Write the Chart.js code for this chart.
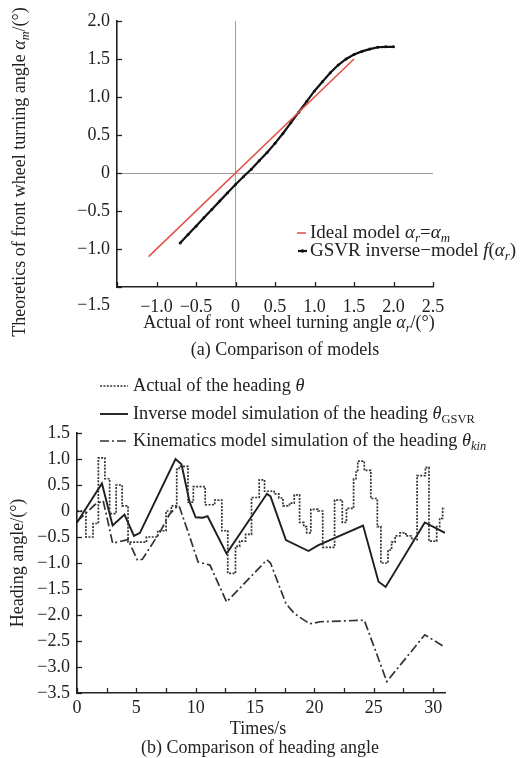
<!DOCTYPE html>
<html><head><meta charset="utf-8">
<script src="https://cdn.jsdelivr.net/npm/chart.js@4.4.1/dist/chart.umd.min.js"></script>
<style>
html,body{margin:0;padding:0;background:#fff;width:520px;height:758px;overflow:hidden}
#wa{position:absolute;left:0;top:0;width:520px;height:362px}
#wb{position:absolute;left:0;top:362px;width:520px;height:396px}
</style></head><body>
<div id="wa"><canvas id="ca"></canvas></div>
<div id="wb"><canvas id="cb"></canvas></div>
<script>
// ---------- (a) Comparison of models ----------
const idealX = [-1.1, 1.5];
const idealY = [-1.1, 1.5];
const gsvrModelX = [-0.7,-0.6,-0.5,-0.4,-0.3,-0.2,-0.1,0,0.1,0.2,0.3,0.4,0.5,0.6,0.7,0.8,0.9,1.0,1.1,1.2,1.3,1.4,1.5,1.6,1.7,1.8,1.9,2.0];
const gsvrModelY = [-0.92,-0.81,-0.70,-0.59,-0.48,-0.37,-0.26,-0.15,-0.05,0.05,0.16,0.27,0.39,0.52,0.66,0.80,0.94,1.08,1.20,1.32,1.42,1.50,1.56,1.60,1.63,1.655,1.66,1.66];
const topXTickLabels = ['−1.0','−0.5','0','0.5','1.0','1.5','2.0','2.5'];
const topYTickLabels = ['−1.0','−0.5','0','0.5','1.0','1.5','2.0'];

// ---------- (b) Comparison of heading angle ----------
const timeActual = [0,0.75,1.35,1.8,2.35,2.75,3.3,3.8,4.3,5.85,6.8,7.5,7.95,8.4,8.6,9.35,9.8,10.8,11.6,12.2,12.7,13.35,13.7,14.2,14.7,15.35,15.8,16.6,17.0,17.35,17.9,18.3,18.75,19.1,19.35,19.7,20.3,20.7,21.7,22.35,22.7,23.3,23.5,23.65,24.2,24.75,25.3,25.6,26.2,26.5,26.8,27.2,27.7,28.2,28.65,29.35,29.65,30.3,30.55,30.8,31.0];
const headingActual = [0,-0.5,-0.24,1.02,0.62,-0.05,0.5,0.1,-0.6,-0.5,-0.38,0.0,0.1,0.8,0.86,0.17,0.47,0.12,0.21,-0.38,-1.2,-0.68,-0.58,-0.45,0.26,0.6,0.38,0.33,0.25,0.1,0.15,0.31,-0.22,-0.3,-0.42,0.03,0.0,-0.7,0.21,-0.22,0.05,0.62,0.75,0.96,0.78,0.24,-0.3,-1.0,-0.75,-0.6,-0.48,-0.42,-0.48,-0.55,0.68,0.84,-0.58,-0.3,-0.14,0.05,0.05];
const timeGsvr = [0,2.1,3.0,4.0,4.8,5.3,8.3,8.8,9.5,10.0,10.6,11.0,12.6,16.0,16.3,17.6,19.5,20.3,24.1,25.4,26.0,29.3,31.0];
const headingGsvr = [-0.22,0.53,-0.28,-0.07,-0.48,-0.42,1.0,0.9,0.16,-0.12,-0.13,-0.10,-0.82,0.33,0.28,-0.56,-0.77,-0.66,-0.28,-1.36,-1.46,-0.22,-0.42];
const timeKin = [0,1.5,2.2,2.6,3.0,4.3,5.1,5.5,7.0,7.8,8.4,8.6,9.5,10.2,11.2,12.6,16.0,16.3,17.6,18.3,19.6,20.5,24.2,26.1,29.3,31.0];
const headingKin = [-0.2,0.12,0.2,-0.2,-0.62,-0.55,-0.95,-0.93,-0.4,-0.06,0.08,0.1,-0.5,-0.98,-1.04,-1.75,-0.94,-1.0,-1.78,-1.97,-2.17,-2.13,-2.10,-3.28,-2.38,-2.62];
const bottomXTickLabels = ['0','5','10','15','20','25','30'];
const bottomYTickLabels = ['1.5','1.0','0.5','0','−0.5','−1.0','−1.5','−2.0','−2.5','−3.0','−3.5'];

const FONT = "'Liberation Serif', 'Times New Roman', serif";
const INK = '#222';
Chart.defaults.font.family = FONT;
Chart.defaults.font.size = 18;
Chart.defaults.color = INK;

function pts(xs, ys){ return xs.map((x,i)=>({x:x, y:ys[i]})); }

function richWidth(ctx, segs, size){
  let w = 0;
  segs.forEach(s=>{ const fs = s.sub ? size*0.68 : size; ctx.font = (s.i?'italic ':'') + fs + 'px ' + FONT; w += ctx.measureText(s.t).width; });
  return w;
}
function richText(ctx, segs, x, y, size, align){
  const w = richWidth(ctx, segs, size);
  let cx = align === 'center' ? x - w/2 : (align === 'right' ? x - w : x);
  ctx.textBaseline = 'middle'; ctx.textAlign = 'left'; ctx.fillStyle = INK;
  segs.forEach(s=>{
    const fs = s.sub ? size*0.68 : size;
    ctx.font = (s.i?'italic ':'') + fs + 'px ' + FONT;
    ctx.fillText(s.t, cx, y + (s.sub ? size*0.3 : 0));
    cx += ctx.measureText(s.t).width;
  });
}

const inTicks = {
  id: 'inTicks',
  afterDatasetsDraw(chart, args, opts){
    const ctx = chart.ctx, a = chart.chartArea, xs = chart.scales.x, ys = chart.scales.y;
    const L = opts.len || 5;
    ctx.save(); ctx.strokeStyle = INK; ctx.lineWidth = 1.3;
    xs.ticks.forEach(t=>{ const p = Math.round(xs.getPixelForValue(t.value)) + 0.5; ctx.beginPath(); ctx.moveTo(p, a.bottom); ctx.lineTo(p, a.bottom - L); ctx.stroke(); });
    ys.ticks.forEach(t=>{ const p = Math.round(ys.getPixelForValue(t.value)) + 0.5; ctx.beginPath(); ctx.moveTo(a.left, p); ctx.lineTo(a.left + L, p); ctx.stroke(); });
    ctx.restore();
  }
};

function legendSample(ctx, ds, x1, x2, y, dot){
  ctx.save();
  ctx.strokeStyle = ds.borderColor; ctx.lineWidth = ds.borderWidth;
  ctx.setLineDash(ds.borderDash || []);
  ctx.beginPath(); ctx.moveTo(x1, y); ctx.lineTo(x2, y); ctx.stroke();
  if (dot){ ctx.fillStyle = ds.borderColor; ctx.beginPath(); ctx.arc((x1+x2)/2, y, 1.8, 0, Math.PI*2); ctx.fill(); }
  ctx.restore();
}

// ---- chart (a)
const topLegend = [
  [{t:'Ideal model '},{t:'α',i:1},{t:'r',i:1,sub:1},{t:'='},{t:'α',i:1},{t:'m',i:1,sub:1}],
  [{t:'GSVR inverse−model '},{t:'f',i:1},{t:'('},{t:'α',i:1},{t:'r',i:1,sub:1},{t:')'}]
];
const textsA = {
  id: 'textsA',
  afterDraw(chart){
    const ctx = chart.ctx; ctx.save();
    ctx.font = '18px ' + FONT; ctx.fillStyle = INK; ctx.textAlign = 'right'; ctx.textBaseline = 'middle';
    ctx.fillText('−1.5', 110, 305);
    richText(ctx, [{t:'Actual of ront wheel turning angle '},{t:'α',i:1},{t:'r',i:1,sub:1},{t:'/(°)'}], 289, 323, 18, 'center');
    richText(ctx, [{t:'(a) Comparison of models'}], 285, 350, 18, 'center');
    ctx.save(); ctx.translate(20, 172); ctx.rotate(-Math.PI/2);
    richText(ctx, [{t:'Theoretics of front wheel turning angle '},{t:'α',i:1},{t:'m',i:1,sub:1},{t:'/(°)'}], 0, 0, 18, 'center');
    ctx.restore();
    const ds = chart.data.datasets;
    legendSample(ctx, ds[0], 297, 306, 233, false);
    richText(ctx, topLegend[0], 310, 233, 19, 'left');
    legendSample(ctx, ds[1], 298, 307, 251, true);
    richText(ctx, topLegend[1], 310, 251, 19, 'left');
    ctx.restore();
  }
};

new Chart(document.getElementById('ca'), {
  type: 'scatter',
  data: { datasets: [
    { label: 'Ideal model αr=αm', data: pts(idealX, idealY), showLine: true, borderColor: '#e5534b', backgroundColor: '#e5534b', borderWidth: 1.6, pointRadius: 0 },
    { label: 'GSVR inverse−model f(αr)', data: pts(gsvrModelX, gsvrModelY), showLine: true, borderColor: '#111', backgroundColor: '#111', borderWidth: 2.2, pointRadius: 1.5, pointBorderWidth: 0 }
  ]},
  options: {
    responsive: true, maintainAspectRatio: false, animation: false, devicePixelRatio: 1,
    layout: { padding: { left: 0, top: 21, right: 87, bottom: 0 } },
    plugins: { legend: { display: false }, tooltip: { enabled: false }, inTicks: { len: 5 } },
    scales: {
      x: { type: 'linear', min: -1.5, max: 2.5,
        afterFit: s => { s.height = 75; },
        ticks: { stepSize: 0.5, padding: 9, maxRotation: 0, autoSkip: false,
          callback: v => { const i = Math.round((v + 1.0) / 0.5); return (i >= 0 && i < topXTickLabels.length) ? topXTickLabels[i] : ''; } },
        grid: { drawTicks: false, lineWidth: 1, color: c => (c.tick && Math.abs(c.tick.value) < 1e-9) ? '#9c9c9c' : 'rgba(0,0,0,0)' },
        border: { display: true, color: INK, width: 1.6 } },
      y: { type: 'linear', min: -1.5, max: 2.0,
        afterFit: s => { s.width = 117; },
        ticks: { stepSize: 0.5, padding: 7, autoSkip: false,
          callback: v => { const i = Math.round((v + 1.0) / 0.5); return (i >= 0 && i < topYTickLabels.length) ? topYTickLabels[i] : ''; } },
        grid: { drawTicks: false, lineWidth: 1, color: c => (c.tick && Math.abs(c.tick.value) < 1e-9) ? '#9c9c9c' : 'rgba(0,0,0,0)' },
        border: { display: true, color: INK, width: 1.6 } }
    }
  },
  plugins: [inTicks, textsA]
});

// ---- chart (b)
const bottomLegend = [
  [{t:'Actual of the heading '},{t:'θ',i:1}],
  [{t:'Inverse model simulation of the heading '},{t:'θ',i:1},{t:'GSVR',sub:1}],
  [{t:'Kinematics model simulation of the heading '},{t:'θ',i:1},{t:'kin',i:1,sub:1}]
];
const textsB = {
  id: 'textsB',
  afterDraw(chart){
    const ctx = chart.ctx; ctx.save();
    richText(ctx, [{t:'Times/s'}], 258, 367, 18, 'center');
    richText(ctx, [{t:'(b) Comparison of heading angle'}], 260, 386, 18, 'center');
    ctx.save(); ctx.translate(18, 201); ctx.rotate(-Math.PI/2);
    richText(ctx, [{t:'Heading angle/(°)'}], 0, 0, 18, 'center');
    ctx.restore();
    const ds = chart.data.datasets;
    const rows = [24, 52, 79];
    rows.forEach((y, k)=>{
      legendSample(ctx, ds[k], 100, 128, y, false);
      richText(ctx, bottomLegend[k], 133, y, 18.3, 'left');
    });
    ctx.restore();
  }
};

new Chart(document.getElementById('cb'), {
  type: 'scatter',
  data: { datasets: [
    { label: 'Actual of the heading θ', data: pts(timeActual, headingActual), showLine: true, stepped: true, borderColor: '#333', borderWidth: 1.7, borderDash: [2, 1.4], pointRadius: 0 },
    { label: 'Inverse model simulation of the heading θGSVR', data: pts(timeGsvr, headingGsvr), showLine: true, borderColor: '#1e1e1e', borderWidth: 1.9, pointRadius: 0 },
    { label: 'Kinematics model simulation of the heading θkin', data: pts(timeKin, headingKin), showLine: true, borderColor: '#333', borderWidth: 1.7, borderDash: [9, 3, 2, 3], pointRadius: 0 }
  ]},
  options: {
    responsive: true, maintainAspectRatio: false, animation: false, devicePixelRatio: 1,
    layout: { padding: { left: 0, top: 71, right: 75, bottom: 0 } },
    plugins: { legend: { display: false }, tooltip: { enabled: false }, inTicks: { len: 5 } },
    scales: {
      x: { type: 'linear', min: 0, max: 31,
        afterFit: s => { s.height = 65; },
        ticks: { stepSize: 2.5, includeBounds: false, padding: 4, maxRotation: 0, autoSkip: false,
          callback: v => { const r = v / 5; return Math.abs(r - Math.round(r)) < 1e-6 ? (bottomXTickLabels[Math.round(r)] || '') : ''; } },
        grid: { display: false, drawTicks: false },
        border: { display: true, color: INK, width: 1.6 } },
      y: { type: 'linear', min: -3.5, max: 1.5,
        afterFit: s => { s.width = 77; },
        ticks: { stepSize: 0.5, padding: 7, autoSkip: false,
          callback: v => { const i = Math.round((1.5 - v) / 0.5); return bottomYTickLabels[i] || ''; } },
        grid: { display: false, drawTicks: false },
        border: { display: true, color: INK, width: 1.6 } }
    }
  },
  plugins: [inTicks, textsB]
});
</script></body></html>
